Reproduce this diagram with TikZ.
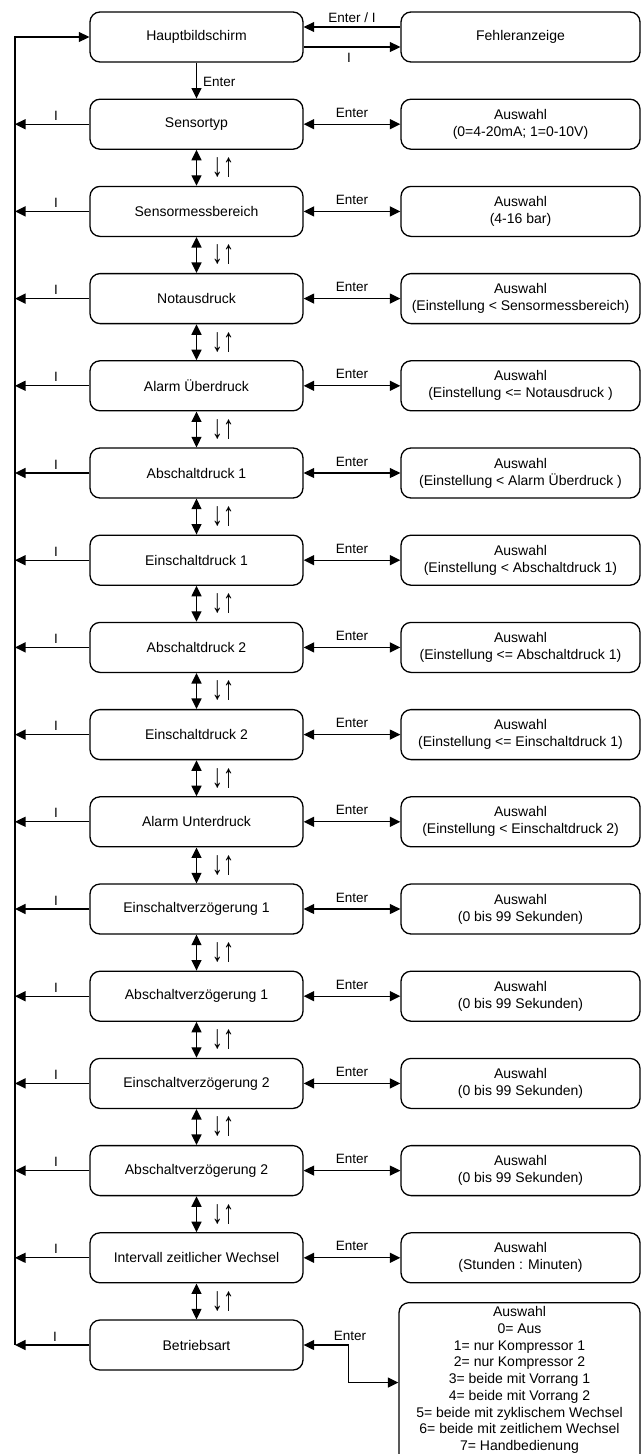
\documentclass[tikz,border=0pt]{standalone}
\usepackage{fontspec}
\setmainfont{Liberation Sans}
\usetikzlibrary{arrows.meta}
\begin{document}
\begin{tikzpicture}[x=1pt,y=-1pt,
  every node/.style={font=\fontsize{14}{17}\selectfont},
  menubox/.style={draw, line width=1.3pt, rounded corners=10pt, minimum width=213pt, minimum height=50pt, inner sep=0pt, align=center},
  selbox/.style={draw, line width=1.3pt, rounded corners=10pt, minimum width=239pt, minimum height=50pt, inner sep=0pt, align=center},
  lbl/.style={font=\fontsize{13.5}{16}\selectfont, inner sep=0pt},
  updown/.style={font=\fontsize{24}{24}\selectfont\bfseries, inner sep=0pt},
  wire/.style={line width=1.3pt},
  onearrow/.style={-{Triangle[length=10.5pt,width=10pt]}},
  twoarrow/.style={{Triangle[length=10.5pt,width=10pt]}-{Triangle[length=10.5pt,width=10pt]}}
]
\useasboundingbox (0,0) rectangle (641,1454);

% row 0
\node[menubox] (m0) at (196.5,37) {Hauptbildschirm};
\node[selbox] (f0) at (520.5,37) {Fehleranzeige};
\draw[wire,onearrow] ([yshift=10pt]f0.west) -- ([yshift=10pt]m0.east);
\draw[wire,onearrow] ([yshift=-10pt]m0.east) -- ([yshift=-10pt]f0.west);
\node[lbl,anchor=base] (t0a) at (352,22) {Enter / I};
\node[lbl,anchor=base] (t0b) at (349,62) {I};

% rows 1..14
\foreach \i/\mtext/\stext in {
1/Sensortyp/{Auswahl\\(0=4-20mA; 1=0-10V)},
2/Sensormessbereich/{Auswahl\\(4-16 bar)},
3/Notausdruck/{Auswahl\\(Einstellung < Sensormessbereich)},
4/Alarm Überdruck/{Auswahl\\(Einstellung <= Notausdruck )},
5/Abschaltdruck 1/{Auswahl\\(Einstellung < Alarm Überdruck )},
6/Einschaltdruck 1/{Auswahl\\(Einstellung < Abschaltdruck 1)},
7/Abschaltdruck 2/{Auswahl\\(Einstellung <= Abschaltdruck 1)},
8/Einschaltdruck 2/{Auswahl\\(Einstellung <= Einschaltdruck 1)},
9/Alarm Unterdruck/{Auswahl\\(Einstellung < Einschaltdruck 2)},
10/Einschaltverzögerung 1/{Auswahl\\(0 bis 99 Sekunden)},
11/Abschaltverzögerung 1/{Auswahl\\(0 bis 99 Sekunden)},
12/Einschaltverzögerung 2/{Auswahl\\(0 bis 99 Sekunden)},
13/Abschaltverzögerung 2/{Auswahl\\(0 bis 99 Sekunden)},
14/Intervall zeitlicher Wechsel/{Auswahl\\(Stunden : Minuten)}}
{
  \pgfmathsetmacro\yy{37+87.2*\i}
  \node[menubox] (m\i) at (196.5,\yy) {\mtext};
  \node[selbox] (s\i) at (520.5,\yy) {\stext};
  \draw[wire,twoarrow] (m\i) -- (s\i);
  \node[lbl,anchor=base] (e\i) at (352,\yy-7) {Enter};
  \coordinate (l\i) at (15,\yy);
  \draw[wire,onearrow] (m\i) -- (l\i);
  \node[lbl,anchor=base] (i\i) at (56,\yy-4) {I};
}

% row 15
\node[menubox] (m15) at (196.5,1345) {Betriebsart};
\node[selbox, anchor=north, inner ysep=4pt, minimum width=241pt, font=\fontsize{14}{16.7}\selectfont] (s15) at (519.5,1302)
  {Auswahl\\0= Aus\\1= nur Kompressor 1\\2= nur Kompressor 2\\3= beide mit Vorrang 1\\4= beide mit Vorrang 2\\5= beide mit zyklischem Wechsel\\6= beide mit zeitlichem Wechsel\\7= Handbedienung\rule[-14pt]{0pt}{14pt}};
\draw[wire,twoarrow] (m15.east) -- ++(45,0) |- ([yshift=3pt]s15.west);
\node[lbl,anchor=base] (e15) at (350,1340) {Enter};
\coordinate (l15) at (15,1345);
\draw[wire,onearrow] (m15) -- (l15);
\node[lbl,anchor=base] (i15) at (55,1341) {I};

% return line to main screen
\coordinate (ltop) at (15,37);
\draw[wire,onearrow] (l15) -- (ltop) -- (m0.west);

% Enter from main screen down
\draw[wire,onearrow] (m0) -- (m1);
\node[lbl,anchor=base west] (e0) at (203,86) {Enter};

% navigation arrows between menu entries
\foreach \i in {1,...,14} {
  \pgfmathtruncatemacro\j{\i+1}
  \draw[wire,twoarrow] (m\i) -- (m\j);
  \pgfmathsetmacro\yy{37+87.2*\i+43.6}
  \node[updown] (n\i) at (223,\yy) {\scalebox{0.92}[1.4]{↓↑}};
}
\end{tikzpicture}
\end{document}
